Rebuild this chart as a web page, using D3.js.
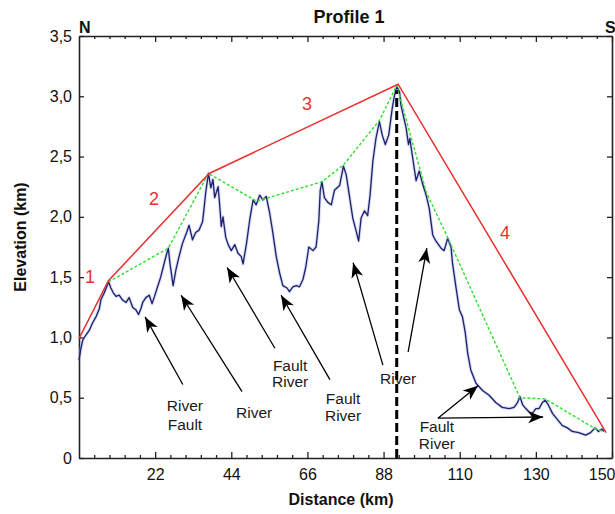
<!DOCTYPE html>
<html>
<head>
<meta charset="utf-8">
<script src="https://cdn.jsdelivr.net/npm/d3@7"></script>
<style>
  html, body { margin: 0; padding: 0; background: #fff; }
  svg { display: block; font-family: "Liberation Sans", Arial, sans-serif; }
</style>
</head>
<body>
<svg id="chart" width="615" height="514"></svg>
<script>
// Topographic profile N–S: elevation (km) against distance (km)
const profileKm = [
  0, 0.5, 1.1, 2.0, 3.0, 3.9, 4.9, 5.9, 6.3, 7.3, 8.0, 8.6, 9.2, 9.9, 10.7, 11.6, 12.6, 13.6, 14.5, 15.5,
  16.4, 17.2, 17.9, 18.4, 19.3, 20.3, 21.1, 21.7, 22.7, 23.6, 24.3, 25.1, 25.8, 26.3, 27.2, 28.0, 28.9, 29.9,
  31.1, 31.8, 32.8, 33.7, 34.7, 35.7, 36.1, 36.6, 37.4, 38.1, 38.7, 39.2, 40.2, 40.7, 41.1, 41.6, 42.4, 43.1,
  44.0, 45.0, 45.9, 46.9, 47.4, 48.4, 49.3, 50.3, 51.2, 52.2, 53.1, 54.1, 55.1, 56.0, 57.0, 58.0, 58.9, 60.1,
  60.8, 61.8, 62.8, 63.7, 64.7, 65.5, 66.4, 67.6, 68.5, 69.3, 69.7, 70.2, 70.9, 71.9, 72.9, 73.8, 75.3, 76.4,
  77.2, 78.1, 79.1, 80.1, 80.8, 81.5, 82.5, 83.4, 84.1, 84.9, 85.8, 86.8, 87.6, 88.5, 89.5, 90.5, 91.1, 91.8,
  92.6, 93.0, 93.7, 94.5, 95.2, 95.6, 96.4, 97.4, 98.3, 99.3, 100.3, 101.2, 102.2, 103.1, 104.6, 105.5, 106.5,
  107.5, 107.9, 108.9, 109.9, 110.8, 111.6, 112.3, 113.2, 114.7, 116.6, 118.5, 120.4, 122.3, 124.3, 125.7,
  126.7, 127.4, 128.2, 129.1, 130.1, 131.0, 132.0, 132.9, 133.9, 134.7, 135.6, 136.8, 138.2, 139.6, 141.1,
  142.5, 144.4, 146.4, 147.8, 149.1, 150.1, 151.1, 151.7
];
const profileElev = [
  0.81, 0.90, 0.98, 1.02, 1.06, 1.12, 1.17, 1.24, 1.31, 1.37, 1.42, 1.46, 1.41, 1.37, 1.34, 1.35, 1.31, 1.29, 1.33, 1.25,
  1.23, 1.19, 1.24, 1.29, 1.33, 1.35, 1.28, 1.33, 1.42, 1.50, 1.58, 1.67, 1.74, 1.61, 1.43, 1.56, 1.67, 1.78,
  1.87, 1.93, 1.81, 1.87, 1.89, 1.96, 2.06, 2.20, 2.36, 2.24, 2.31, 2.16, 2.25, 2.08, 1.92, 2.00, 1.83, 1.77,
  1.72, 1.77, 1.70, 1.67, 1.61, 1.78, 1.97, 2.14, 2.10, 2.18, 2.14, 2.17, 2.03, 1.87, 1.67, 1.53, 1.43, 1.41,
  1.38, 1.42, 1.43, 1.42, 1.48, 1.58, 1.75, 1.72, 1.75, 1.97, 2.22, 2.29, 2.16, 2.12, 2.10, 2.22, 2.26, 2.42,
  2.35, 2.18, 1.99, 1.88, 1.80, 1.99, 2.05, 2.01, 2.18, 2.46, 2.65, 2.79, 2.68, 2.60, 2.68, 2.90, 3.00, 3.08,
  3.04, 2.93, 2.84, 2.74, 2.60, 2.65, 2.49, 2.30, 2.38, 2.27, 2.18, 2.07, 1.85, 1.80, 1.74, 1.72, 1.82,
  1.75, 1.62, 1.42, 1.23, 1.17, 1.04, 0.87, 0.73, 0.62, 0.56, 0.52, 0.46, 0.42, 0.41, 0.42,
  0.46, 0.51, 0.44, 0.41, 0.38, 0.37, 0.41, 0.41, 0.46, 0.48, 0.44, 0.37, 0.32, 0.27, 0.25,
  0.22, 0.21, 0.19, 0.21, 0.25, 0.22, 0.24, 0.22
];

// Outer envelope (segments 1–4)
const envelopeKm   = [0, 8.5, 37.6, 92.2, 152.3];
const envelopeElev = [0.99, 1.47, 2.36, 3.10, 0.21];
const segmentLabels = ["1", "2", "3", "4"];
const segmentLabelKm   = [3.2, 21.7, 65.9, 123.1];
const segmentLabelElev = [1.45, 2.10, 2.89, 1.82];

// Line joining the summits
const summitKm   = [8.5, 25.8, 37.4, 51.3, 70.1, 76.4, 86.8, 91.8, 100.4, 106.5, 127.4, 134.7, 149.3, 151.7];
const summitElev = [1.46, 1.74, 2.36, 2.13, 2.29, 2.43, 2.80, 3.09, 2.20, 1.83, 0.50, 0.49, 0.24, 0.22];

// Divide marker
const divideKm = 91.8;
const divideTopElev = 3.05;

// Axis ticks
const xTickKm = [22, 44, 66, 88, 110, 132, 154];
const xTickLabels = ["22", "44", "66", "88", "110", "130", "150"];
const yTicks = [0, 0.5, 1.0, 1.5, 2.0, 2.5, 3.0, 3.5];
const yTickLabels = ["0", "0,5", "1,0", "1,5", "2,0", "2,5", "3,0", "3,5"];

// Annotations: arrows [fromKm, fromElev, toKm, toElev]
const arrowFromKm   = [30.0, 47.1, 56.6, 72.5, 87.8, 95.1, 103.7, 103.7];
const arrowFromElev = [0.61, 0.55, 0.91, 0.65, 0.77, 0.88, 0.33, 0.33];
const arrowToKm     = [19.1, 29.5, 42.8, 58.4, 79.2, 100.5, 115.3, 134.1];
const arrowToElev   = [1.17, 1.35, 1.58, 1.35, 1.62, 1.74, 0.60, 0.34];

// Annotation labels (one line each)
const noteText = ["River", "Fault", "River", "Fault", "River", "Fault", "River", "River", "Fault", "River"];
const noteKm   = [30.6, 30.6, 50.6, 61.0, 61.0, 76.3, 76.3, 92.2, 103.4, 103.4];
const noteElev = [0.39, 0.23, 0.33, 0.72, 0.585, 0.445, 0.31, 0.61, 0.215, 0.075];

const svg = d3.select("#chart");
const margin = { top: 36, right: 3, bottom: 56, left: 79 };
const W = 615, H = 514;

const x = d3.scaleLinear().domain([0, 154]).range([margin.left, W - margin.right]);
const y = d3.scaleLinear().domain([0, 3.5]).range([H - margin.bottom, margin.top]);

const minorKm = d3.range(0, 154.01, 4.4).filter(v => Math.abs(v / 22 - Math.round(v / 22)) > 1e-6);

const axisColor = "#222";

// Bottom axis: minor then major ticks
svg.append("g")
  .attr("transform", `translate(0,${y(0)})`)
  .call(d3.axisBottom(x).tickValues(minorKm).tickSize(-3).tickFormat(""))
  .call(g => g.select(".domain").remove());
const xAxis = svg.append("g")
  .attr("transform", `translate(0,${y(0)})`)
  .call(d3.axisBottom(x).tickValues(xTickKm).tickSizeInner(-6).tickSizeOuter(0).tickPadding(11)
    .tickFormat((d, i) => xTickLabels[i]));
xAxis.selectAll("text").attr("font-size", 16).attr("fill", "#111").attr("font-family", "Liberation Sans, Arial, sans-serif");
xAxis.selectAll("text").filter((d, i) => i === xTickKm.length - 1).attr("text-anchor", "end").attr("x", 3);

// Top axis (ticks only)
svg.append("g")
  .attr("transform", `translate(0,${y(3.5)})`)
  .call(d3.axisTop(x).tickValues(minorKm).tickSize(-3).tickFormat(""))
  .call(g => g.select(".domain").remove());
svg.append("g")
  .attr("transform", `translate(0,${y(3.5)})`)
  .call(d3.axisTop(x).tickValues(xTickKm).tickSizeInner(-6).tickSizeOuter(0).tickFormat(""));

// Left axis
const yAxis = svg.append("g")
  .attr("transform", `translate(${x(0)},0)`)
  .call(d3.axisLeft(y).tickValues(yTicks).tickSizeInner(-5).tickSizeOuter(0).tickPadding(7)
    .tickFormat((d, i) => yTickLabels[i]));
yAxis.selectAll("text").attr("font-size", 16).attr("fill", "#111").attr("font-family", "Liberation Sans, Arial, sans-serif");

// Right axis (ticks only)
svg.append("g")
  .attr("transform", `translate(${x(154)},0)`)
  .call(d3.axisRight(y).tickValues(yTicks).tickSizeInner(-5).tickSizeOuter(0).tickFormat(""));

svg.selectAll(".domain").attr("stroke", axisColor).attr("stroke-width", 1.6);
svg.selectAll(".tick line").attr("stroke", axisColor).attr("stroke-width", 1.3);

// Elevation profile
const profile = profileKm.map((k, i) => [k, profileElev[i]]);
const line = d3.line().x(d => x(d[0])).y(d => y(d[1]));
svg.append("path").datum(profile).attr("d", line)
  .attr("fill", "none").attr("stroke", "#9fb0ea").attr("stroke-width", 3.2).attr("stroke-opacity", 0.45)
  .attr("stroke-linejoin", "round");
svg.append("path").datum(profile).attr("d", line)
  .attr("fill", "none").attr("stroke", "#1f1f6a").attr("stroke-width", 1.3).attr("stroke-linejoin", "round");

// Summit line
svg.append("path").datum(summitKm.map((k, i) => [k, summitElev[i]])).attr("d", line)
  .attr("fill", "none").attr("stroke", "#2fe02f").attr("stroke-width", 1.4).attr("stroke-dasharray", "3,2");

// Envelope
svg.append("path").datum(envelopeKm.map((k, i) => [k, envelopeElev[i]])).attr("d", line)
  .attr("fill", "none").attr("stroke", "#e8312f").attr("stroke-width", 1.5);

svg.selectAll(".seglabel").data(segmentLabels).join("text")
  .attr("class", "seglabel")
  .attr("x", (d, i) => x(segmentLabelKm[i]))
  .attr("y", (d, i) => y(segmentLabelElev[i]))
  .attr("text-anchor", "middle").attr("font-size", 18).attr("fill", "#e8312f")
  .text(d => d);

// Arrow annotations
svg.append("defs").append("marker")
  .attr("id", "head").attr("viewBox", "-16 -7 18 14")
  .attr("refX", 0).attr("refY", 0)
  .attr("markerWidth", 18).attr("markerHeight", 14)
  .attr("markerUnits", "userSpaceOnUse").attr("orient", "auto")
  .append("path").attr("d", "M0,0 L-15,-6 L-11,0 L-15,6 Z").attr("fill", "#000");

svg.selectAll(".arrow").data(arrowFromKm).join("line")
  .attr("class", "arrow")
  .attr("x1", (d, i) => x(arrowFromKm[i])).attr("y1", (d, i) => y(arrowFromElev[i]))
  .attr("x2", (d, i) => x(arrowToKm[i])).attr("y2", (d, i) => y(arrowToElev[i]))
  .attr("stroke", "#000").attr("stroke-width", 1.3)
  .attr("marker-end", "url(#head)");

svg.selectAll(".note").data(noteText).join("text")
  .attr("class", "note")
  .attr("x", (d, i) => x(noteKm[i])).attr("y", (d, i) => y(noteElev[i]))
  .attr("text-anchor", "middle").attr("font-size", 15.5).attr("fill", "#1a1a1a")
  .text(d => d);

// Divide (dashed vertical)
svg.append("line")
  .attr("x1", x(divideKm)).attr("x2", x(divideKm))
  .attr("y1", y(0)).attr("y2", y(divideTopElev))
  .attr("stroke", "#000").attr("stroke-width", 3).attr("stroke-dasharray", "9,4");

// Titles
svg.append("text").attr("x", 349).attr("y", 23).attr("text-anchor", "middle")
  .attr("font-size", 18).attr("font-weight", "bold").attr("fill", "#111").text("Profile 1");
svg.append("text").attr("x", x(0)).attr("y", 33)
  .attr("font-size", 16).attr("font-weight", "bold").attr("fill", "#111").text("N");
svg.append("text").attr("x", x(154) - 7).attr("y", 33)
  .attr("font-size", 16).attr("font-weight", "bold").attr("fill", "#111").text("S");
svg.append("text").attr("x", 341).attr("y", 505).attr("text-anchor", "middle")
  .attr("font-size", 16).attr("font-weight", "bold").attr("fill", "#111").text("Distance (km)");
svg.append("text").attr("transform", `translate(26,${(y(0) + y(3.5)) / 2 - 10}) rotate(-90)`)
  .attr("text-anchor", "middle")
  .attr("font-size", 16).attr("font-weight", "bold").attr("fill", "#111").text("Elevation (km)");
</script>
</body>
</html>
